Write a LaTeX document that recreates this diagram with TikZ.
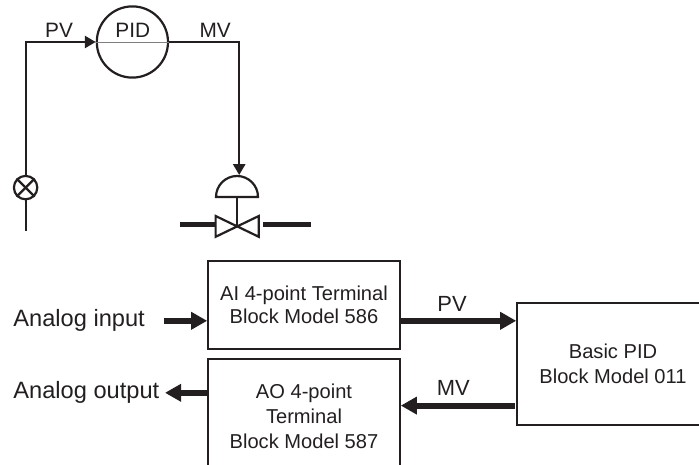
\documentclass[tikz,border=0pt]{standalone}
\usepackage{fontspec}
\setmainfont{Liberation Sans}
\usetikzlibrary{arrows.meta}
\definecolor{inkdark}{HTML}{231F20}
\tikzset{
    sign/.style={line width=0.055cm,draw=inkdark},
    signarrow/.style={sign,-{Triangle[length=0.27cm,width=0.3cm]}},
    flow/.style={line width=0.15cm,draw=inkdark,-{Triangle[length=0.4cm,width=0.42cm]}},
    blockbox/.style={draw=inkdark,line width=0.04cm,minimum width=4.8cm,align=center,text=inkdark,inner sep=0pt,font=\fontsize{14.3}{17.8}\selectfont},
    smalllabel/.style={text=inkdark,inner sep=0pt,anchor=base,font=\fontsize{14.8}{17}\selectfont},
    biglabel/.style={text=inkdark,inner sep=0pt,font=\fontsize{16.8}{20}\selectfont}
}
\begin{document}
\begin{tikzpicture}
    \clip(0,0)rectangle(17.475,11.6);
    %parte alta, anello
    \node[circle,sign,minimum size=1.78cm,inner sep=0pt](pidcircle)at(3.31,10.55){};
    \node[circle,sign,minimum size=0.585cm,inner sep=0pt](sensor)at(0.64,6.91){};
    \draw[line width=0.02cm,gray](pidcircle.west)--(pidcircle.east);
    \draw[sign](sensor.45)--(sensor.225); %croce sensore
    \draw[sign](sensor.135)--(sensor.315);
    \coordinate(sensorend)at(0.64,5.82);
    \draw[sign](sensor.south)--(sensorend);
    \draw[signarrow](sensor.north)|-(pidcircle.west);
    \node[smalllabel](pvtop)at(1.475,10.66){PV};
    \node[smalllabel](pidlabel)at(3.32,10.66){PID};
    \node[smalllabel](mvtop)at(5.38,10.66){MV};
    %valvola
    \coordinate(domearrow)at(5.98,7.225);
    \draw[signarrow](pidcircle.east)-|(domearrow);
    \draw[sign](5.4,6.675)arc(180:0:0.525)--cycle;
    \draw[sign](5.925,6.675)--(5.925,5.94); %stelo
    \draw[sign](5.39,6.2)--(6.47,5.68)--(6.47,6.2)--(5.39,5.68)--cycle;
    \draw[line width=0.125cm,inkdark](4.5,5.99)--(5.41,5.99);
    \draw[line width=0.125cm,inkdark](6.58,5.99)--(7.78,5.99);
    %parte bassa, blocchi
    \node[blockbox,minimum height=2.2cm,font=\fontsize{14.3}{16.4}\selectfont](aibox)at(7.6,3.975){AI 4-point Terminal\\Block Model 586};
    \node[blockbox,minimum height=2.85cm](aobox)at(7.6,1.2){AO 4-point\\Terminal\\Block Model 587};
    \node[blockbox,minimum height=3.05cm](pidbox)at(15.325,2.5){Basic PID\\Block Model 011};
    \node[biglabel,anchor=base west](ainlabel)at(0.33,3.45){Analog input};
    \node[biglabel,anchor=base west](aolabel)at(0.33,1.65){Analog output};
    \coordinate(inputstart)at(4.1,3.58);
    \coordinate(outputend)at(4.125,1.78);
    \coordinate(mvstart)at(12.875,1.46);
    \draw[flow](inputstart)--(inputstart-|aibox.west);
    \draw[flow](inputstart-|aibox.east)--(inputstart-|pidbox.west);
    \draw[flow](mvstart)--(mvstart-|aobox.east);
    \draw[flow](outputend-|aobox.west)--(outputend);
    \node[biglabel,anchor=base,font=\fontsize{15.6}{18}\selectfont](pvlabel)at(11.3,3.81){PV};
    \node[biglabel,anchor=base,font=\fontsize{15.6}{18}\selectfont](mvlabel)at(11.33,1.725){MV};
\end{tikzpicture}
\end{document}
